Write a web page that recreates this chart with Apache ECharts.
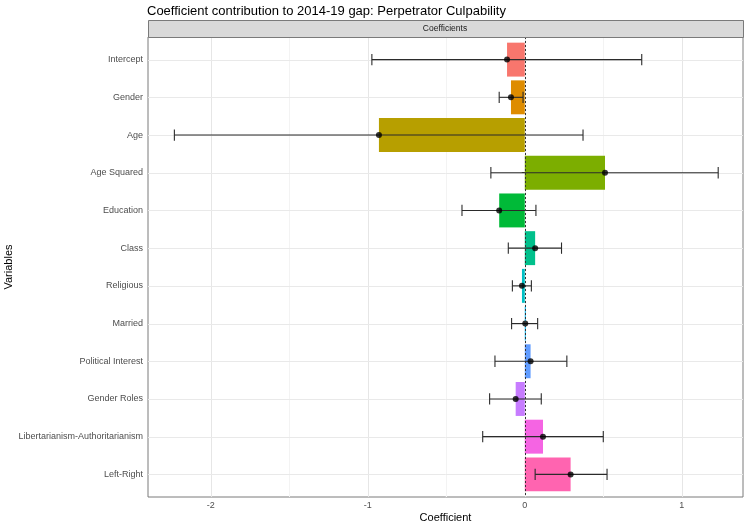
<!DOCTYPE html>
<html>
<head>
<meta charset="utf-8"/>
<title>Coefficient contribution</title>
<script src="https://cdn.jsdelivr.net/npm/echarts@6/dist/echarts.min.js"></script>
<style>
  html, body { margin: 0; padding: 0; background: #fff; }
  #main { width: 746px; height: 525px; }
</style>
</head>
<body>
<div id="main"></div>
<script type="text/javascript">
// variables, top to bottom
var variables = ['Intercept', 'Gender', 'Age', 'Age Squared', 'Education', 'Class',
  'Religious', 'Married', 'Political Interest', 'Gender Roles',
  'Libertarianism-Authoritarianism', 'Left-Right'];
// point estimates and interval ends
var estimate = [-0.113, -0.088, -0.929, 0.511, -0.163, 0.066, -0.018, 0.003, 0.037, -0.058, 0.116, 0.292];
var lower = [-0.974, -0.163, -2.232, -0.216, -0.400, -0.105, -0.079, -0.084, -0.190, -0.224, -0.268, 0.066];
var upper = [0.745, -0.011, 0.371, 1.232, 0.071, 0.234, 0.042, 0.082, 0.268, 0.105, 0.500, 0.524];
var xTicks = [-2, -1, 0, 1];
var xMinor = [-1.5, -0.5, 0.5];
// ggplot default hue palette for 12 groups
var colors = ['#F8766D', '#DE8C00', '#B79F00', '#7CAE00', '#00BA38', '#00C08B',
  '#00BFC4', '#00B4F0', '#619CFF', '#C77CFF', '#F564E3', '#FF64B0'];

var yIdx = variables.map(function (v, i) { return i; });
var font = 'Liberation Sans, Arial, sans-serif';
var X0 = -2.40, X1 = 1.39;
var Y0 = -0.6, Y1 = variables.length - 1 + 0.6;

var chart = echarts.init(document.getElementById('main'));

// panel grid lines, snapped to whole pixels so they stay crisp
function gridLines(values, vertical, color) {
  return {
    type: 'custom', silent: true, z: 1,
    data: values.map(function (v) { return vertical ? [v, 0] : [0, v]; }),
    renderItem: function (params, api) {
      var cs = params.coordSys;
      var p = api.coord([api.value(0), api.value(1)]);
      var shape;
      if (vertical) {
        var x = Math.round(p[0]) + 0.5;
        shape = { x1: x, y1: cs.y, x2: x, y2: cs.y + cs.height };
      } else {
        var y = Math.round(p[1]) + 0.5;
        shape = { x1: cs.x, y1: y, x2: cs.x + cs.width, y2: y };
      }
      return { type: 'line', shape: shape, style: { stroke: color, lineWidth: 1 } };
    }
  };
}

var option = {
  backgroundColor: '#fff',
  animation: false,
  textStyle: { fontFamily: font },
  title: {
    text: 'Coefficient contribution to 2014-19 gap: Perpetrator Culpability',
    left: 142, top: 0,
    textStyle: { fontSize: 13, fontWeight: 'normal', color: '#000', fontFamily: font }
  },
  graphic: [
    {
      type: 'rect', left: 148, top: 20, z: 10,
      shape: { width: 595, height: 17 },
      style: { fill: '#D9D9D9', stroke: '#7a7a7a', lineWidth: 1 }
    },
    {
      type: 'text', z: 11, x: 445, y: 24,
      style: { text: 'Coefficients', fill: '#1a1a1a', fontSize: 8.5, fontFamily: font, align: 'center' }
    }
  ],
  grid: {
    left: 148, right: 3, top: 37, bottom: 28,
    outerBoundsMode: 'none', containLabel: false,
    show: true, borderColor: '#7a7a7a', borderWidth: 1, backgroundColor: '#fff'
  },
  xAxis: {
    type: 'value', min: X0, max: X1,
    name: 'Coefficient', nameLocation: 'middle', nameGap: 15, nameMoveOverlap: false,
    nameTextStyle: { fontSize: 11, color: '#000', fontFamily: font },
    axisLine: { show: false },
    axisTick: { show: true, length: 3, customValues: xTicks, lineStyle: { color: '#444' } },
    axisLabel: { customValues: xTicks, fontSize: 9, color: '#4D4D4D', margin: 4 },
    splitLine: { show: false }
  },
  yAxis: {
    type: 'value', inverse: true, min: Y0, max: Y1,
    name: 'Variables', nameLocation: 'middle', nameGap: 134, nameRotate: 90, nameMoveOverlap: false,
    nameTextStyle: { fontSize: 11, color: '#000', fontFamily: font },
    axisLine: { show: false },
    axisTick: { show: true, length: 3, customValues: yIdx, lineStyle: { color: '#444' } },
    axisLabel: {
      customValues: yIdx, fontSize: 9, color: '#4D4D4D', margin: 5,
      formatter: function (v) { return variables[Math.round(v)]; }
    },
    splitLine: { show: false }
  },
  series: [
    gridLines(xMinor, true, '#F3F3F3'),
    gridLines(xTicks, true, '#E6E6E6'),
    gridLines(yIdx, false, '#E9E9E9'),
    {
      type: 'custom', name: 'bars', z: 2,
      data: estimate.map(function (v, i) { return [v, i]; }),
      renderItem: function (params, api) {
        var v = api.value(0), i = api.value(1);
        var p0 = api.coord([0, i - 0.45]);
        var p1 = api.coord([v, i + 0.45]);
        var x = Math.min(p0[0], p1[0]);
        var w = Math.max(Math.abs(p1[0] - p0[0]), 1);
        return {
          type: 'rect',
          shape: { x: x, y: p0[1], width: w, height: p1[1] - p0[1] },
          style: { fill: colors[i] }
        };
      }
    },
    {
      type: 'custom', name: 'errors', z: 3,
      data: lower.map(function (v, i) { return [v, upper[i], i]; }),
      encode: { x: [0, 1], y: 2 },
      renderItem: function (params, api) {
        var lo = api.value(0), hi = api.value(1), i = api.value(2);
        var a = api.coord([lo, i]), b = api.coord([hi, i]);
        var h = api.size([0, 0.15])[1];
        var st = { stroke: '#2b2b2b', lineWidth: 1.1 };
        return {
          type: 'group',
          children: [
            { type: 'line', shape: { x1: a[0], y1: a[1], x2: b[0], y2: b[1] }, style: st },
            { type: 'line', shape: { x1: a[0], y1: a[1] - h, x2: a[0], y2: a[1] + h }, style: st },
            { type: 'line', shape: { x1: b[0], y1: b[1] - h, x2: b[0], y2: b[1] + h }, style: st }
          ]
        };
      }
    },
    {
      type: 'scatter', name: 'estimate', z: 4,
      symbolSize: 6,
      itemStyle: { color: '#000' },
      data: estimate.map(function (v, i) { return [v, i]; }),
      markLine: {
        silent: true, symbol: 'none', label: { show: false },
        lineStyle: { color: '#333', type: [2, 2], width: 1 },
        data: [{ xAxis: 0 }]
      }
    }
  ]
};
chart.setOption(option);
</script>
</body>
</html>
